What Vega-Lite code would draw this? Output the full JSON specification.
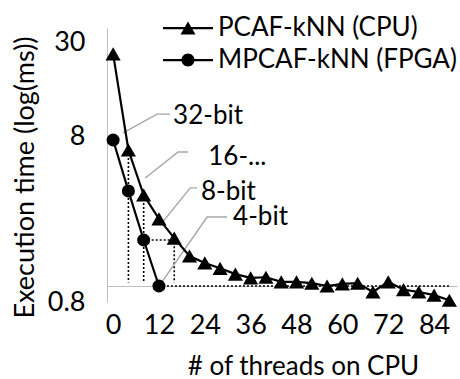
{
  "$schema": "https://vega.github.io/schema/vega-lite/v6.json",
  "width": 350,
  "height": 274,
  "autosize": {"type": "none"},
  "padding": {"left": 107, "top": 28, "right": 3, "bottom": 77},
  "background": "white",
  "config": {
    "font": "Lato",
    "view": {"stroke": null},
    "axis": {
      "grid": false,
      "ticks": false,
      "tickSize": 0,
      "labelFont": "Lato",
      "labelFontSize": 27,
      "labelColor": "#000",
      "titleFont": "Lato",
      "titleFontSize": 27,
      "titleFontWeight": "normal",
      "titleColor": "#000",
      "domainColor": "#bfbfbf",
      "domainWidth": 1
    },
    "legend": {
      "orient": "none",
      "legendX": 56,
      "legendY": -16,
      "padding": 0,
      "symbolSize": 2500,
      "symbolStrokeWidth": 0,
      "symbolFillColor": "#000",
      "labelFont": "Lato",
      "labelFontSize": 26,
      "labelColor": "#000",
      "labelOffset": 5,
      "rowPadding": 0,
      "clipHeight": 32,
      "labelLimit": 400
    }
  },
  "datasets": {
    "timing": [
      {"series": "PCAF-kNN (CPU)", "x": 0, "y": 25.5},
      {"series": "PCAF-kNN (CPU)", "x": 4, "y": 6.67},
      {"series": "PCAF-kNN (CPU)", "x": 8, "y": 3.56},
      {"series": "PCAF-kNN (CPU)", "x": 12, "y": 2.55},
      {"series": "PCAF-kNN (CPU)", "x": 16, "y": 1.95},
      {"series": "PCAF-kNN (CPU)", "x": 20, "y": 1.52},
      {"series": "PCAF-kNN (CPU)", "x": 24, "y": 1.38},
      {"series": "PCAF-kNN (CPU)", "x": 28, "y": 1.28},
      {"series": "PCAF-kNN (CPU)", "x": 32, "y": 1.18},
      {"series": "PCAF-kNN (CPU)", "x": 36, "y": 1.12},
      {"series": "PCAF-kNN (CPU)", "x": 40, "y": 1.13},
      {"series": "PCAF-kNN (CPU)", "x": 44, "y": 1.06},
      {"series": "PCAF-kNN (CPU)", "x": 48, "y": 1.06},
      {"series": "PCAF-kNN (CPU)", "x": 52, "y": 1.04},
      {"series": "PCAF-kNN (CPU)", "x": 56, "y": 1.0},
      {"series": "PCAF-kNN (CPU)", "x": 60, "y": 1.03},
      {"series": "PCAF-kNN (CPU)", "x": 64, "y": 1.04},
      {"series": "PCAF-kNN (CPU)", "x": 68, "y": 0.92},
      {"series": "PCAF-kNN (CPU)", "x": 72, "y": 1.06},
      {"series": "PCAF-kNN (CPU)", "x": 76, "y": 0.95},
      {"series": "PCAF-kNN (CPU)", "x": 80, "y": 0.92},
      {"series": "PCAF-kNN (CPU)", "x": 84, "y": 0.88},
      {"series": "PCAF-kNN (CPU)", "x": 88, "y": 0.82},
      {"series": "MPCAF-kNN (FPGA)", "x": 0, "y": 7.67},
      {"series": "MPCAF-kNN (FPGA)", "x": 4, "y": 3.77},
      {"series": "MPCAF-kNN (FPGA)", "x": 8, "y": 1.9},
      {"series": "MPCAF-kNN (FPGA)", "x": 12, "y": 1.0}
    ],
    "dropLines": [
      {"x": 4, "x2": 4, "y": 6.67, "y2": 1.05},
      {"x": 8, "x2": 8, "y": 3.56, "y2": 1.05},
      {"x": 8, "x2": 16, "y": 1.9, "y2": 1.9},
      {"x": 16, "x2": 16, "y": 1.95, "y2": 1.05},
      {"x": 12, "x2": 88, "y": 1.0, "y2": 1.0}
    ],
    "leaders": [
      {"label": "32-bit", "k": 0, "x": 2.6, "y": 8.46},
      {"label": "32-bit", "k": 1, "x": 11.5, "y": 11.0},
      {"label": "32-bit", "k": 2, "x": 14.9, "y": 11.0},
      {"label": "16-...", "k": 0, "x": 8.4, "y": 4.51},
      {"label": "16-...", "k": 1, "x": 17.0, "y": 6.49},
      {"label": "16-...", "k": 2, "x": 19.6, "y": 6.49},
      {"label": "8-bit", "k": 0, "x": 12.3, "y": 2.34},
      {"label": "8-bit", "k": 1, "x": 20.2, "y": 3.93},
      {"label": "8-bit", "k": 2, "x": 22.0, "y": 3.93},
      {"label": "4-bit", "k": 0, "x": 12.8, "y": 1.06},
      {"label": "4-bit", "k": 1, "x": 24.6, "y": 2.62},
      {"label": "4-bit", "k": 2, "x": 29.8, "y": 2.62}
    ],
    "callouts": [
      {"label": "32-bit", "x": 15.7, "y": 10.7},
      {"label": "16-...", "x": 24.9, "y": 6.06},
      {"label": "8-bit", "x": 23.0, "y": 3.71},
      {"label": "4-bit", "x": 31.4, "y": 2.62}
    ]
  },
  "encoding": {
    "x": {
      "field": "x",
      "type": "quantitative",
      "scale": {"domain": [-1.6, 90], "nice": false, "zero": false},
      "axis": {
        "values": [0, 12, 24, 36, 48, 60, 72, 84],
        "offset": -16,
        "labelPadding": 39,
        "labelBaseline": "middle",
        "title": "# of threads on CPU",
        "titleFontSize": 26,
        "titleX": 196,
        "titleY": 80,
        "titleBaseline": "middle"
      }
    },
    "y": {
      "field": "y",
      "type": "quantitative",
      "scale": {"type": "log", "domain": [0.8, 36.6], "nice": false},
      "axis": {
        "values": [0.8, 8, 30],
        "format": ".1~f",
        "labelPadding": 22,
        "title": "Execution time (log(ms))",
        "titleAngle": -90,
        "titleX": -82,
        "titleY": 149,
        "titleAlign": "center",
        "titleBaseline": "middle"
      }
    }
  },
  "layer": [
    {
      "data": {"name": "dropLines"},
      "mark": {"type": "rule", "color": "#000", "strokeWidth": 1.6, "strokeDash": [2, 2]},
      "encoding": {"x2": {"field": "x2"}, "y2": {"field": "y2"}}
    },
    {
      "data": {"name": "leaders"},
      "mark": {"type": "line", "color": "#a6a6a6", "strokeWidth": 1.4},
      "encoding": {"detail": {"field": "label"}, "order": {"field": "k"}}
    },
    {
      "data": {"name": "timing"},
      "mark": {"type": "line", "color": "#000", "strokeWidth": 2.2},
      "encoding": {"detail": {"field": "series"}}
    },
    {
      "data": {"name": "timing"},
      "mark": {"type": "point", "filled": true, "color": "#000", "opacity": 1},
      "encoding": {
        "shape": {
          "field": "series",
          "scale": {"domain": ["PCAF-kNN (CPU)", "MPCAF-kNN (FPGA)"], "range": ["triangle-up", "circle"]},
          "legend": null
        },
        "size": {
          "field": "series",
          "type": "nominal",
          "scale": {"domain": ["PCAF-kNN (CPU)", "MPCAF-kNN (FPGA)"], "range": [230, 170]},
          "legend": null
        }
      }
    },
    {
      "data": {"name": "callouts"},
      "mark": {"type": "text", "align": "left", "baseline": "middle", "font": "Lato", "fontSize": 26, "color": "#000"},
      "encoding": {"text": {"field": "label"}}
    },
    {
      "data": {"name": "timing"},
      "transform": [{"filter": "false"}],
      "mark": {"type": "point", "filled": true, "color": "#000", "opacity": 1},
      "encoding": {
        "shape": {
          "field": "series",
          "scale": {
            "domain": ["PCAF-kNN (CPU)", "MPCAF-kNN (FPGA)"],
            "range": [
              "M-1,-0.045H1V0.045H-1ZM0,-0.26L0.3,0.26L-0.3,0.26Z",
              "M-1,-0.045H1V0.045H-1ZM0.26,0A0.26,0.26,0,1,1,-0.26,0A0.26,0.26,0,1,1,0.26,0Z"
            ]
          },
          "legend": {"title": null}
        }
      }
    }
  ],
  "resolve": {"scale": {"shape": "independent", "size": "independent"}, "legend": {"shape": "independent", "size": "independent"}}
}
